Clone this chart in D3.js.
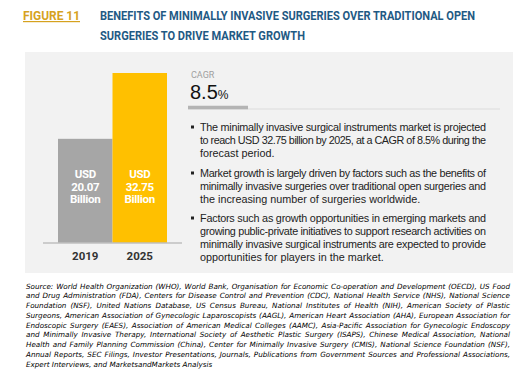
<!DOCTYPE html>
<html>
<head>
<meta charset="utf-8">
<script src="https://cdn.jsdelivr.net/npm/d3@7"></script>
<style>
  body { margin: 0; background: #fff; }
  svg { display: block; }
</style>
</head>
<body>
<svg id="chart" width="526" height="372"></svg>
<script>
// data
var years = ["2019", "2025"];
var marketSize = [20.07, 32.75];
var barLabels = [["USD", "20.07", "Billion"], ["USD", "32.75", "Billion"]];
var barColors = ["#a6a6a6", "#ffc000"];
var cagr = "8.5";

var titleLines = ["BENEFITS OF MINIMALLY INVASIVE SURGERIES OVER TRADITIONAL OPEN",
                  "SURGERIES TO DRIVE MARKET GROWTH"];

var bullets = [
    ["The minimally invasive surgical instruments market is projected",
     "to reach USD 32.75 billion by 2025, at a CAGR of 8.5% during the",
     "forecast period."],
    ["Market growth is largely driven by factors such as the benefits of",
     "minimally invasive surgeries over traditional open surgeries and",
     "the increasing number of surgeries worldwide."],
    ["Factors such as growth opportunities in emerging markets and",
     "growing public-private initiatives to support research activities on",
     "minimally invasive surgical instruments are expected to provide",
     "opportunities for players in the market."]
];

var sourceLines = [
    "Source: World Health Organization (WHO), World Bank, Organisation for Economic Co-operation and Development (OECD), US Food",
    "and Drug Administration (FDA), Centers for Disease Control and Prevention (CDC), National Health Service (NHS), National Science",
    "Foundation (NSF), United Nations Database, US Census Bureau, National Institutes of Health (NIH), American Society of Plastic",
    "Surgeons, American Association of Gynecologic Laparoscopists (AAGL), American Heart Association (AHA), European Association for",
    "Endoscopic Surgery (EAES), Association of American Medical Colleges (AAMC), Asia-Pacific Association for Gynecologic Endoscopy",
    "and Minimally Invasive Therapy, International Society of Aesthetic Plastic Surgery (ISAPS), Chinese Medical Association, National",
    "Health and Family Planning Commission (China), Center for Minimally Invasive Surgery (CMIS), National Science Foundation (NSF),",
    "Annual Reports, SEC Filings, Investor Presentations, Journals, Publications from Government Sources and Professional Associations,",
    "Expert Interviews, and MarketsandMarkets Analysis"
];

var svg = d3.select("#chart");
var condensed = "Roboto, 'Liberation Sans', sans-serif";
var body = "'Liberation Sans', Arial, sans-serif";

// title
svg.append("text")
    .attr("x", 23).attr("y", 20)
    .attr("font-family", condensed).attr("font-weight", "bold")
    .attr("font-size", 12).attr("fill", "#d6a21e")
    .attr("text-decoration", "underline")
    .attr("textLength", 57).attr("lengthAdjust", "spacingAndGlyphs")
    .text("FIGURE 11");

var titleWidths = [375, 205];
svg.append("g").selectAll("text")
    .data(titleLines)
    .join("text")
    .attr("x", 100)
    .attr("y", function (d, i) { return 20 + i * 20; })
    .attr("font-family", condensed).attr("font-weight", "bold")
    .attr("font-size", 12).attr("fill", "#1f5a84")
    .attr("textLength", function (d, i) { return titleWidths[i]; })
    .attr("lengthAdjust", "spacingAndGlyphs")
    .text(function (d) { return d; });

// panel
svg.append("rect")
    .attr("x", 25).attr("y", 52)
    .attr("width", 488).attr("height", 221)
    .attr("fill", "#f2f2f2");

// bar chart
var x = d3.scaleBand().domain(years).range([58, 167]).paddingInner(0);
var y = d3.scaleLinear().domain([0, 32.75]).range([243, 73]);

var bars = svg.append("g");
bars.selectAll("rect")
    .data(years)
    .join("rect")
    .attr("x", function (d) { return x(d); })
    .attr("y", function (d, i) { return y(marketSize[i]); })
    .attr("width", x.bandwidth())
    .attr("height", function (d, i) { return y(0) - y(marketSize[i]); })
    .attr("fill", function (d, i) { return barColors[i]; });

bars.selectAll("g.lbl")
    .data(years)
    .join("g")
    .attr("class", "lbl")
    .each(function (d, i) {
        d3.select(this).selectAll("text")
            .data(barLabels[i])
            .join("text")
            .attr("x", x(d) + x.bandwidth() / 2)
            .attr("y", function (t, j) { return 178 + j * 12.5; })
            .attr("text-anchor", "middle")
            .attr("font-family", condensed).attr("font-weight", "bold")
            .attr("font-size", 11.5).attr("fill", "#fff")
            .style("letter-spacing", "-0.3px")
            .text(function (t) { return t; });
    });

var xAxis = d3.axisBottom(x).tickSize(0).tickPadding(9);
var ax = svg.append("g")
    .attr("transform", "translate(0," + y(0) + ")")
    .call(xAxis);
ax.select(".domain").remove();
ax.append("line")
    .attr("x1", 43).attr("x2", 182)
    .attr("stroke", "#bfbfbf").attr("stroke-width", 1.5);
ax.selectAll(".tick text")
    .attr("font-family", condensed).attr("font-weight", "bold")
    .attr("font-size", 11.5).attr("fill", "#333");

// CAGR block
svg.append("text")
    .attr("x", 191).attr("y", 77.5)
    .attr("font-family", condensed).attr("font-size", 9)
    .attr("fill", "#a0a0a0")
    .text("CAGR");
var big = svg.append("text")
    .attr("x", 190).attr("y", 99)
    .attr("font-family", body).attr("font-size", 20)
    .attr("fill", "#111");
big.append("tspan").text(cagr);
big.append("tspan").attr("font-size", 12).text("%");

svg.append("line")
    .attr("x1", 188).attr("x2", 500).attr("y1", 109).attr("y2", 109)
    .attr("stroke", "#dcdcdc").attr("stroke-width", 1);
svg.append("line")
    .attr("x1", 188).attr("x2", 248).attr("y1", 107.5).attr("y2", 107.5)
    .attr("stroke", "#b4b4b4").attr("stroke-width", 3.5);

// bullets (lines wider than the column are squeezed to fit)
var bulletTop = [127, 173, 218];
var maxLine = 286;
var bg = svg.append("g");
bullets.forEach(function (lines, i) {
    bg.append("rect")
        .attr("x", 191).attr("y", bulletTop[i] - 1.5)
        .attr("width", 3).attr("height", 3)
        .attr("fill", "#222");
    bg.selectAll(null)
        .data(lines)
        .join("text")
        .attr("x", 200)
        .attr("y", function (d, j) { return bulletTop[i] + 4 + j * 13; })
        .attr("font-family", body).attr("font-size", 10.8)
        .attr("fill", "#222")
        .text(function (d) { return d; })
        .each(function () {
            if (this.getComputedTextLength() > maxLine) {
                d3.select(this).attr("textLength", maxLine).attr("lengthAdjust", "spacing");
            }
        });
});

// source, justified
var src = svg.append("g");
var srcLeft = 26, srcRight = 510;
src.selectAll("text")
    .data(sourceLines)
    .join("text")
    .attr("x", srcLeft)
    .attr("y", function (d, i) { return 288.5 + i * 9.75; })
    .attr("font-family", "'DejaVu Sans', Verdana, sans-serif").attr("font-style", "italic")
    .attr("font-size", 7.2).attr("fill", "#000")
    .text(function (d) { return d; })
    .each(function (d, i) {
        var w = this.getComputedTextLength();
        if (i === sourceLines.length - 1) return;
        if (w > srcRight - srcLeft) {
            d3.select(this).attr("textLength", srcRight - srcLeft).attr("lengthAdjust", "spacing");
            return;
        }
        var gaps = d.split(" ").length - 1;
        var ws = (srcRight - srcLeft - w) / gaps;
        d3.select(this).style("word-spacing", ws + "px");
    });
</script>
</body>
</html>
